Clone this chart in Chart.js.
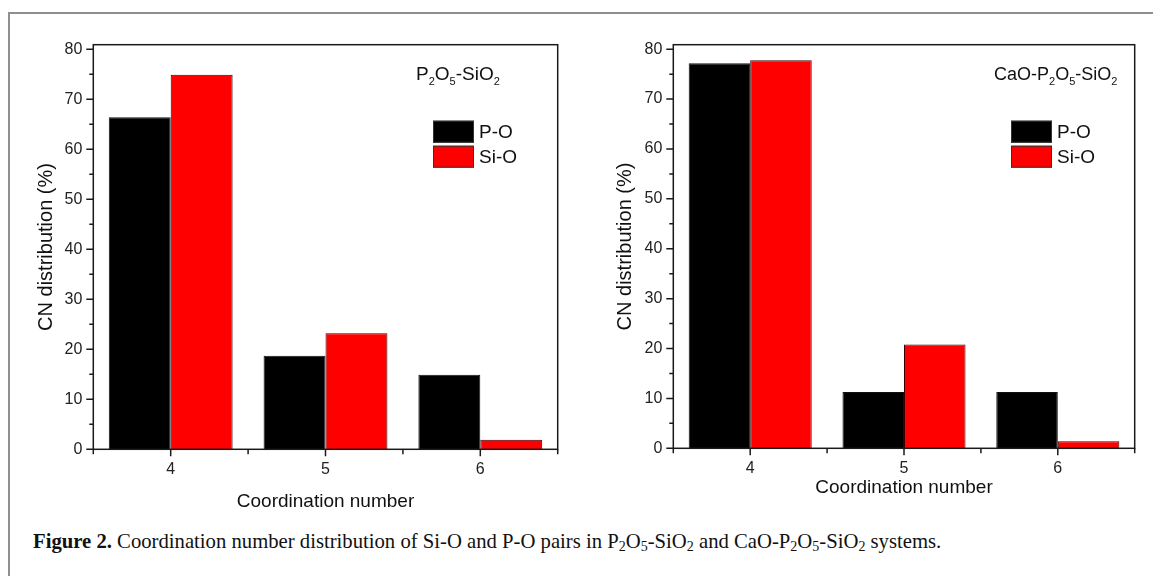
<!DOCTYPE html>
<html>
<head>
<meta charset="utf-8">
<script src="https://cdn.jsdelivr.net/npm/chart.js@4.4.0/dist/chart.umd.min.js"></script>
<style>
  html, body { margin: 0; padding: 0; background: #fff; }
  body { width: 1153px; height: 576px; position: relative; overflow: hidden; font-family: 'Liberation Sans', Arial, sans-serif; }
  .frame { position: absolute; left: 8px; top: 12px; width: 1200px; height: 600px;
           border-top: 2px solid #8f8f8f; border-left: 2px solid #8f8f8f; }
  canvas { position: absolute; top: 0; }
  #left { left: 0; }
  #right { left: 580px; }
  .note { position: absolute; color: #111; line-height: 20px; white-space: nowrap; }
  .note sub { font-size: 11px; vertical-align: -5px; line-height: 0; }
  .caption { position: absolute; left: 33px; top: 529px; font-family: 'Liberation Serif', 'Times New Roman', serif;
             font-size: 20.7px; line-height: 24px; color: #111; white-space: nowrap; }
  .caption sub { font-size: 14px; vertical-align: -3px; line-height: 0; }
</style>
</head>
<body>
<div class="frame"></div>
<canvas id="left" width="580" height="520"></canvas>
<canvas id="right" width="573" height="520"></canvas>
<div class="note" style="left:416px; top:64px; font-size:19px;">P<sub>2</sub>O<sub>5</sub>-SiO<sub>2</sub></div>
<div class="note" style="left:994px; top:64px; font-size:18px;">CaO-P<sub>2</sub>O<sub>5</sub>-SiO<sub>2</sub></div>
<div class="caption"><b>Figure 2.</b> Coordination number distribution of Si-O and P-O pairs in P<sub>2</sub>O<sub>5</sub>-SiO<sub>2</sub> and CaO-P<sub>2</sub>O<sub>5</sub>-SiO<sub>2</sub> systems.</div>

<script>
// coordination numbers on the x axis
const categories = ['4', '5', '6'];
const seriesNames = ['P-O', 'Si-O'];
const seriesColors = ['#000000', '#ff0000'];

// P2O5-SiO2 system (%)
const binaryPO = [66.4, 18.7, 14.9];
const binarySiO = [74.9, 23.2, 1.9];

// CaO-P2O5-SiO2 system (%)
const ternaryPO = [77.2, 11.3, 11.3];
const ternarySiO = [77.8, 20.8, 1.4];

const FONT = "'Liberation Sans', Arial, sans-serif";

// frame round the plot plus outward tick marks (long on labelled ticks)
const frameTicks = {
    id: 'frameTicks',
    afterDraw(chart) {
        const { ctx, chartArea: a, scales: { x, y } } = chart;
        ctx.save();
        ctx.strokeStyle = '#1a1a1a';
        ctx.lineWidth = 1.5;
        ctx.strokeRect(a.left, a.top, a.right - a.left, a.bottom - a.top);
        ctx.beginPath();
        y.ticks.forEach(t => {
            const py = y.getPixelForValue(t.value);
            const len = t.value % 10 === 0 ? 7 : 4;
            ctx.moveTo(a.left - len, py);
            ctx.lineTo(a.left, py);
        });
        const px = x.ticks.map((t, i) => x.getPixelForTick(i));
        const half = (px[1] - px[0]) / 2;
        px.forEach(p => {
            ctx.moveTo(p, a.bottom);
            ctx.lineTo(p, a.bottom + 7);
            ctx.moveTo(p - half, a.bottom);
            ctx.lineTo(p - half, a.bottom + 5);
        });
        ctx.moveTo(px[px.length - 1] + half, a.bottom);
        ctx.lineTo(px[px.length - 1] + half, a.bottom + 5);
        ctx.stroke();
        ctx.restore();
    }
};

// legend as stacked boxes inside the plot
const boxLegend = {
    id: 'boxLegend',
    afterDraw(chart, args, opts) {
        const { ctx } = chart;
        ctx.save();
        ctx.font = '19px ' + FONT;
        ctx.textBaseline = 'middle';
        chart.data.datasets.forEach((ds, i) => {
            const top = opts.top + i * (opts.h + opts.gap);
            ctx.fillStyle = ds.backgroundColor;
            ctx.fillRect(opts.left, top, opts.w, opts.h);
            ctx.strokeStyle = '#333';
            ctx.lineWidth = 1;
            ctx.strokeRect(opts.left + 0.5, top + 0.5, opts.w - 1, opts.h - 1);
            ctx.fillStyle = '#111';
            ctx.fillText(ds.label, opts.left + opts.w + 5, top + opts.h / 2 + 1);
        });
        ctx.restore();
    }
};

function makeChart(id, po, sio, box) {
    return new Chart(document.getElementById(id), {
        type: 'bar',
        data: {
            labels: categories,
            datasets: [
                { label: seriesNames[0], data: po, backgroundColor: seriesColors[0], borderColor: '#111', borderWidth: 1 },
                { label: seriesNames[1], data: sio, backgroundColor: seriesColors[1], borderColor: '#3a0000', borderWidth: 1 }
            ]
        },
        options: {
            responsive: false,
            animation: false,
            categoryPercentage: 0.8,
            barPercentage: 1.0,
            layout: { padding: { left: 0, top: box.top, right: box.padRight, bottom: 0 } },
            scales: {
                x: {
                    grid: { display: false, drawTicks: false },
                    border: { display: false },
                    ticks: { color: '#222', font: { family: FONT, size: 16 }, padding: 11 },
                    title: { display: true, text: 'Coordination number', color: '#111',
                             font: { family: FONT, size: 19 }, padding: { top: 0, bottom: box.xTitlePad } },
                    afterFit: s => { s.height = box.xHeight; }
                },
                y: {
                    min: 0,
                    max: 80.9,
                    grid: { display: false, drawTicks: false },
                    border: { display: false },
                    ticks: {
                        stepSize: 5,
                        includeBounds: false,
                        color: '#222',
                        font: { family: FONT, size: 16 },
                        padding: 11,
                        callback: v => (v % 10 === 0 ? v : '')
                    },
                    title: { display: true, text: 'CN distribution (%)', color: '#111',
                             font: { family: FONT, size: 20 }, padding: { top: box.yTitlePad, bottom: 0 } },
                    afterFit: s => { s.width = box.yWidth; }
                }
            },
            plugins: {
                legend: { display: false },
                tooltip: { enabled: false },
                boxLegend: { left: box.legendLeft, top: 120.7, w: 41, h: 22, gap: 3 }
            }
        },
        plugins: [frameTicks, boxLegend]
    });
}

makeChart('left', binaryPO, binarySiO,
    { top: 44.7, padRight: 22.3, xHeight: 70.7, yWidth: 93.3, xTitlePad: 7, yTitlePad: 34, legendLeft: 433 });
makeChart('right', ternaryPO, ternarySiO,
    { top: 44.7, padRight: 18.3, xHeight: 71.7, yWidth: 93.3, xTitlePad: 20.5, yTitlePad: 33, legendLeft: 431 });
</script>
</body>
</html>
